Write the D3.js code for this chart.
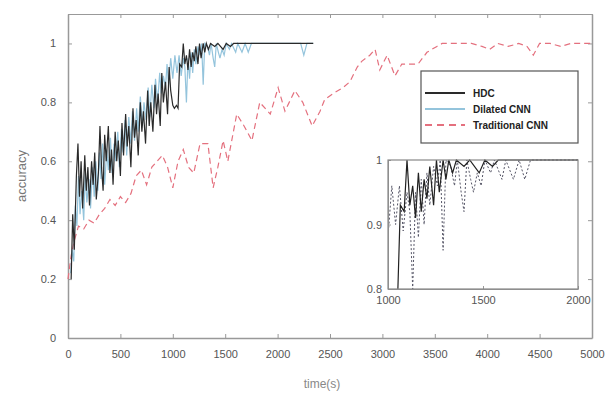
<!DOCTYPE html>
<html>
<head>
<meta charset="utf-8">
<script src="https://cdn.jsdelivr.net/npm/d3@7"></script>
<style>
body { margin: 0; background: #fff; }
svg { display: block; font-family: "Liberation Sans", Arial, sans-serif; }
.axis text { fill: #555; font-size: 11px; }
.axis path, .axis line { stroke: #999; }
</style>
</head>
<body>
<svg id="chart" width="609" height="395"></svg>
<script>
// HDC
var hdcTime = [30,45,60,80,95,110,125,140,160,175,190,205,225,240,255,270,290,305,320,335,
  350,365,385,400,415,430,450,465,480,500,515,530,550,565,580,600,620,635,650,670,
  690,705,720,740,760,775,790,810,830,845,860,880,895,910,930,950,965,980,1000,1015,
  1035,1050,1065,1085,1100,1115,1130,1145,1160,1175,1190,1205,1220,1240,1255,1270,1290,1305,1320,1340,
  1360,1400,1430,1480,1510,1550,1580,2340];
var hdcAcc = [0.20,0.42,0.30,0.55,0.66,0.48,0.60,0.44,0.62,0.50,0.58,0.45,0.60,0.52,0.63,0.47,0.56,0.72,0.58,0.50,
  0.69,0.60,0.72,0.56,0.64,0.52,0.70,0.60,0.67,0.55,0.73,0.62,0.76,0.65,0.72,0.58,0.78,0.68,0.74,0.62,
  0.80,0.70,0.77,0.66,0.84,0.72,0.80,0.70,0.86,0.76,0.83,0.72,0.90,0.80,0.87,0.76,0.92,0.84,0.79,0.78,
  0.79,0.78,0.93,0.92,1.00,0.93,0.96,0.91,0.98,0.92,0.97,0.94,0.99,0.93,1.00,0.95,1.00,0.97,1.00,0.98,
  1.00,0.99,1.00,0.98,1.00,0.99,1.00,1.00];

// Dilated CNN
var dilTime = [25,40,55,70,85,100,115,130,150,165,180,200,215,235,250,265,285,300,315,330,
  350,370,385,405,420,440,455,475,490,510,525,545,560,580,600,615,635,655,670,690,
  710,725,745,765,780,800,820,835,855,875,890,910,930,945,960,980,1000,1020,1040,1060,
  1080,1100,1115,1130,1145,1160,1175,1190,1205,1220,1240,1260,1275,1290,1305,1330,1350,1365,1385,1400,
  1415,1435,1450,1470,1490,1510,1540,1560,1600,1620,1660,1690,1720,1750,2220,2250,2280,2340];
var dilAcc = [0.22,0.30,0.26,0.45,0.38,0.55,0.42,0.50,0.40,0.56,0.46,0.54,0.44,0.58,0.48,0.60,0.50,0.63,0.54,0.66,
  0.52,0.64,0.57,0.68,0.56,0.66,0.60,0.70,0.58,0.71,0.63,0.74,0.62,0.75,0.66,0.77,0.67,0.78,0.70,0.82,
  0.72,0.80,0.74,0.85,0.75,0.86,0.78,0.88,0.80,0.90,0.83,0.89,0.85,0.93,0.86,0.95,0.88,0.96,0.90,0.96,
  0.89,0.95,0.92,0.80,0.95,0.88,0.97,0.90,0.98,0.93,0.99,0.96,1.00,0.86,1.00,0.99,0.96,1.00,0.95,0.92,
  1.00,0.97,0.95,0.98,0.96,1.00,0.98,1.00,0.97,1.00,0.97,1.00,0.97,1.00,1.00,0.96,1.00,1.00];

// Traditional CNN
var tradTime = [0,30,60,100,150,200,250,300,350,400,450,500,550,600,650,700,750,800,850,900,
  950,1000,1050,1100,1150,1200,1260,1335,1385,1430,1480,1525,1610,1680,1755,1830,1930,2005,2070,2165,
  2240,2330,2405,2450,2530,2625,2690,2760,2805,2880,2930,2975,3045,3120,3185,3265,3340,3425,3520,3570,
  3700,3850,3950,4025,4100,4200,4300,4380,4440,4500,4600,4700,4800,4900,5000];
var tradAcc = [0.20,0.28,0.33,0.38,0.37,0.40,0.39,0.42,0.44,0.47,0.45,0.48,0.46,0.49,0.55,0.57,0.52,0.58,0.60,0.62,
  0.58,0.51,0.60,0.64,0.58,0.56,0.66,0.66,0.51,0.58,0.67,0.60,0.76,0.72,0.67,0.80,0.76,0.85,0.77,0.84,
  0.80,0.72,0.77,0.81,0.83,0.85,0.87,0.92,0.94,0.96,0.98,0.91,0.96,0.89,0.93,0.93,0.93,0.97,0.99,1.00,
  1.00,1.00,0.99,0.98,1.00,0.99,1.00,0.99,0.96,1.00,1.00,0.99,1.00,1.00,1.00];

var seriesNames = ["HDC", "Dilated CNN", "Traditional CNN"];
var xTicks = [0,500,1000,1500,2000,2500,3000,3500,4000,4500,5000];
var yTicks = [0,0.2,0.4,0.6,0.8,1];
var insetXTicks = [1000,1500,2000];
var insetYTicks = [0.8,0.9,1];

var colHdc = "#2a2a2a", colDil = "#94c4dc", colTrad = "#e4707e";

var svg = d3.select("#chart");
var mLeft = 68, mRight = 592, mTop = 14, mBottom = 338;

var x = d3.scaleLinear().domain([0, 5000]).range([mLeft, mRight]);
var y = d3.scaleLinear().domain([0, 1.1]).range([mBottom, mTop]);

function pts(t, a) { return t.map(function(d, i) { return [d, a[i]]; }); }
var hdc = pts(hdcTime, hdcAcc), dil = pts(dilTime, dilAcc), trad = pts(tradTime, tradAcc);

var line = d3.line().x(function(d) { return x(d[0]); }).y(function(d) { return y(d[1]); });

// axes (ticks inward)
svg.append("g").attr("class", "axis")
  .attr("transform", "translate(0," + mBottom + ")")
  .call(d3.axisBottom(x).tickValues(xTicks).tickFormat(d3.format("d")).tickSizeInner(-4).tickSizeOuter(0).tickPadding(12))
  .call(function(g) { g.select(".domain").attr("stroke-width", 1.5); });
svg.append("g").attr("class", "axis")
  .attr("transform", "translate(" + mLeft + ",0)")
  .call(d3.axisLeft(y).tickValues(yTicks).tickFormat(d3.format("~g")).tickSizeInner(-4).tickSizeOuter(0).tickPadding(12))
  .call(function(g) { g.select(".domain").attr("stroke-width", 1.5); });
svg.append("g").attr("class", "axis")
  .attr("transform", "translate(" + mRight + ",0)")
  .call(d3.axisRight(y).tickValues(yTicks).tickFormat("").tickSizeInner(-4).tickSizeOuter(0))
  .call(function(g) { g.select(".domain").attr("stroke-width", 1.5); });
svg.append("g").attr("class", "axis")
  .attr("transform", "translate(0," + mTop + ")")
  .call(d3.axisTop(x).tickValues(xTicks).tickFormat("").tickSizeInner(-4).tickSizeOuter(0))
  .call(function(g) { g.select(".domain").attr("stroke", "#eee"); });

// lines
svg.append("path").datum(trad).attr("d", line).attr("fill", "none")
  .attr("stroke", colTrad).attr("stroke-width", 1.2).attr("stroke-dasharray", "6,4");
svg.append("path").datum(dil).attr("d", line).attr("fill", "none")
  .attr("stroke", colDil).attr("stroke-width", 1.2);
svg.append("path").datum(hdc).attr("d", line).attr("fill", "none")
  .attr("stroke", colHdc).attr("stroke-width", 1.2);

// axis titles
svg.append("text").attr("transform", "translate(26,176) rotate(-90)")
  .attr("text-anchor", "middle").attr("fill", "#777").attr("font-size", 13)
  .text("accuracy");
svg.append("text").attr("x", 322).attr("y", 388)
  .attr("text-anchor", "middle").attr("fill", "#888").attr("font-size", 12)
  .text("time(s)");

// legend
var lg = svg.append("g").attr("transform", "translate(421,71)");
lg.append("rect").attr("width", 157).attr("height", 72)
  .attr("fill", "#fff").attr("stroke", "#555").attr("stroke-width", 1.2);
var lgItems = lg.selectAll("g.item").data(seriesNames).enter().append("g")
  .attr("transform", function(d, i) { return "translate(4," + (22 + i * 16) + ")"; });
lgItems.append("line").attr("x1", 0).attr("x2", 40)
  .attr("stroke", function(d, i) { return [colHdc, colDil, colTrad][i]; })
  .attr("stroke-width", 2)
  .attr("stroke-dasharray", function(d, i) { return i == 2 ? "7,5" : null; });
lgItems.append("text").attr("x", 48).attr("dy", "0.35em")
  .attr("font-size", 10).attr("font-weight", "bold").attr("fill", "#222")
  .text(function(d) { return d; });

// inset
var ix = d3.scaleLinear().domain([1000, 2000]).range([388, 578]);
var iy = d3.scaleLinear().domain([0.8, 1]).range([289, 160]);
var ins = svg.append("g");
ins.append("rect").attr("x", 388).attr("y", 160).attr("width", 190).attr("height", 129).attr("fill", "#fff");
svg.append("clipPath").attr("id", "insclip").append("rect")
  .attr("x", 388).attr("y", 159).attr("width", 190).attr("height", 130);
var iline = d3.line().x(function(d) { return ix(d[0]); }).y(function(d) { return iy(d[1]); });
ins.append("path").datum(dil).attr("d", iline).attr("clip-path", "url(#insclip)")
  .attr("fill", "none").attr("stroke", "#556").attr("stroke-width", 1).attr("stroke-dasharray", "2,2");
ins.append("path").datum(hdc).attr("d", iline).attr("clip-path", "url(#insclip)")
  .attr("fill", "none").attr("stroke", "#222").attr("stroke-width", 1.2);
ins.append("g").attr("class", "axis").attr("transform", "translate(0,289)")
  .call(d3.axisBottom(ix).tickValues(insetXTicks).tickFormat(d3.format("d")).tickSizeInner(-3).tickSizeOuter(0).tickPadding(7));
ins.append("g").attr("class", "axis").attr("transform", "translate(388,0)")
  .call(d3.axisLeft(iy).tickValues(insetYTicks).tickFormat(d3.format("~g")).tickSizeInner(-3).tickSizeOuter(0).tickPadding(6));
ins.append("rect").attr("x", 388).attr("y", 160).attr("width", 190).attr("height", 129)
  .attr("fill", "none").attr("stroke", "#888").attr("stroke-width", 1.2);
</script>
</body>
</html>
